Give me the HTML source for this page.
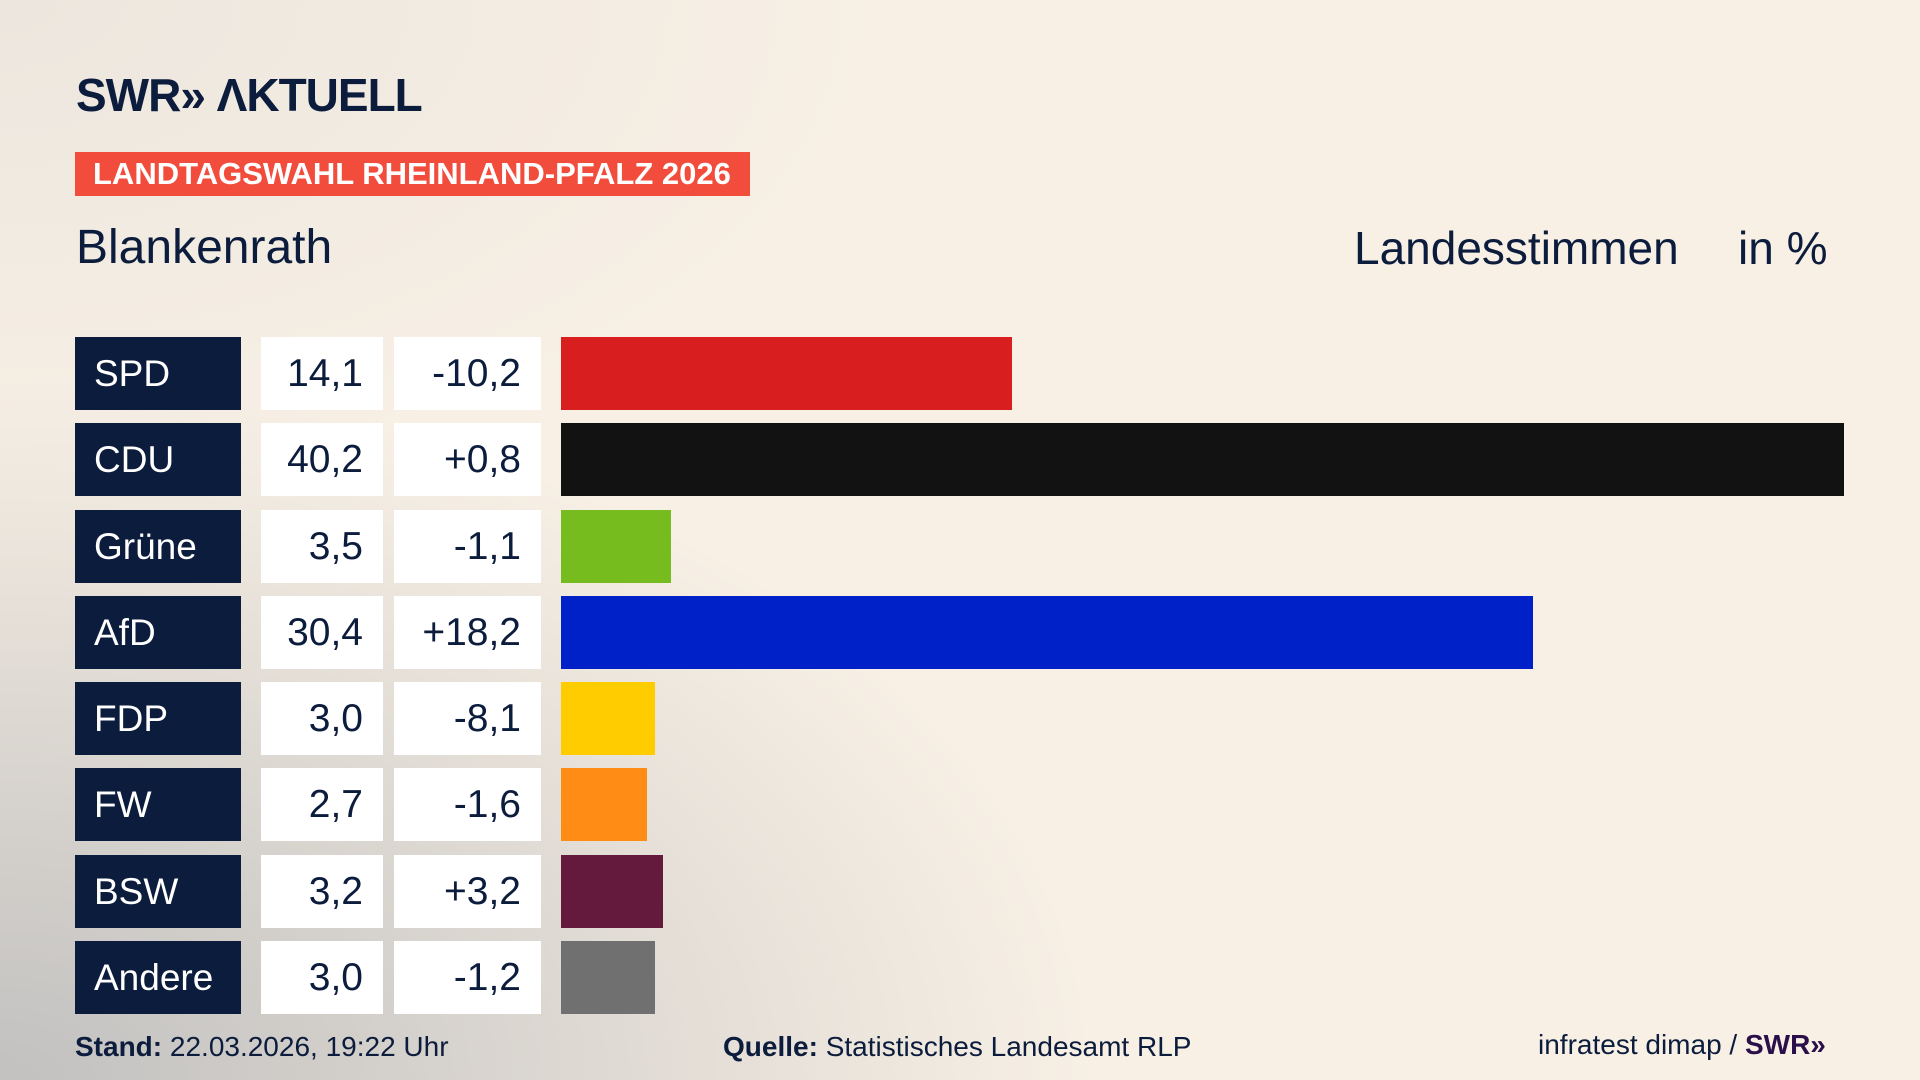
<!DOCTYPE html>
<html><head><meta charset="utf-8"><style>
*{margin:0;padding:0;box-sizing:border-box}
body{width:1920px;height:1080px;overflow:hidden;position:relative;font-family:"Liberation Sans",sans-serif;color:#0c1c3c;
background:radial-gradient(ellipse 1100px 700px at 0px 1080px,#c2c1c0 0%,#d6d2cd 40%,rgba(248,240,229,0) 100%),radial-gradient(ellipse 900px 500px at 0px 0px,#ece6de 0%,rgba(248,240,229,0) 100%),#f8f0e5}
.a{position:absolute;white-space:nowrap}
.row{position:absolute;left:0;height:73px;width:1920px}
.p{position:absolute;left:75px;width:166px;height:73px;background:#0c1c3c;color:#fff;font-size:37px;line-height:73px;padding-left:19px}
.v,.d{position:absolute;height:73px;background:#fff;font-size:39px;line-height:73px;text-align:right;color:#0c1c3c}
.v{left:261px;width:122px;padding-right:20px}
.d{left:394px;width:147px;padding-right:20px}
.b{position:absolute;left:561px;height:73px}
</style></head><body>
<div class="a" style="left:76px;top:68px;font-size:46px;font-weight:bold;letter-spacing:-1px;">SWR» ΛKTUELL</div>
<div class="a" style="left:75px;top:152px;width:675px;height:44px;background:#f24c3c;color:#fff;font-weight:bold;font-size:31px;line-height:44px;padding-left:18px;">LANDTAGSWAHL RHEINLAND-PFALZ 2026</div>
<div class="a" style="left:76px;top:220px;font-size:48px">Blankenrath</div>
<div class="a" style="left:1354px;top:221px;font-size:46px">Landesstimmen</div>
<div class="a" style="left:1738px;top:221px;font-size:46px">in %</div>

<div class="row" style="top:337px"><div class="p">SPD</div><div class="v">14,1</div><div class="d">-10,2</div><div class="b" style="width:451px;background:#d81e1e"></div></div>
<div class="row" style="top:423px"><div class="p">CDU</div><div class="v">40,2</div><div class="d">+0,8</div><div class="b" style="width:1283px;background:#121212"></div></div>
<div class="row" style="top:510px"><div class="p">Grüne</div><div class="v">3,5</div><div class="d">-1,1</div><div class="b" style="width:110px;background:#77bc1f"></div></div>
<div class="row" style="top:596px"><div class="p">AfD</div><div class="v">30,4</div><div class="d">+18,2</div><div class="b" style="width:972px;background:#0021c8"></div></div>
<div class="row" style="top:682px"><div class="p">FDP</div><div class="v">3,0</div><div class="d">-8,1</div><div class="b" style="width:94px;background:#ffcc00"></div></div>
<div class="row" style="top:768px"><div class="p">FW</div><div class="v">2,7</div><div class="d">-1,6</div><div class="b" style="width:86px;background:#ff8c14"></div></div>
<div class="row" style="top:855px"><div class="p">BSW</div><div class="v">3,2</div><div class="d">+3,2</div><div class="b" style="width:102px;background:#641a3c"></div></div>
<div class="row" style="top:941px"><div class="p">Andere</div><div class="v">3,0</div><div class="d">-1,2</div><div class="b" style="width:94px;background:#707070"></div></div>

<div class="a" style="left:75px;top:1031px;font-size:28px;"><b>Stand:</b> 22.03.2026, 19:22 Uhr</div>
<div class="a" style="left:723px;top:1031px;font-size:28px;"><b>Quelle:</b> Statistisches Landesamt RLP</div>
<div class="a" style="left:1538px;top:1029px;font-size:28px;">infratest dimap / <b style="color:#2a0f4a">SWR»</b></div>
</body></html>
